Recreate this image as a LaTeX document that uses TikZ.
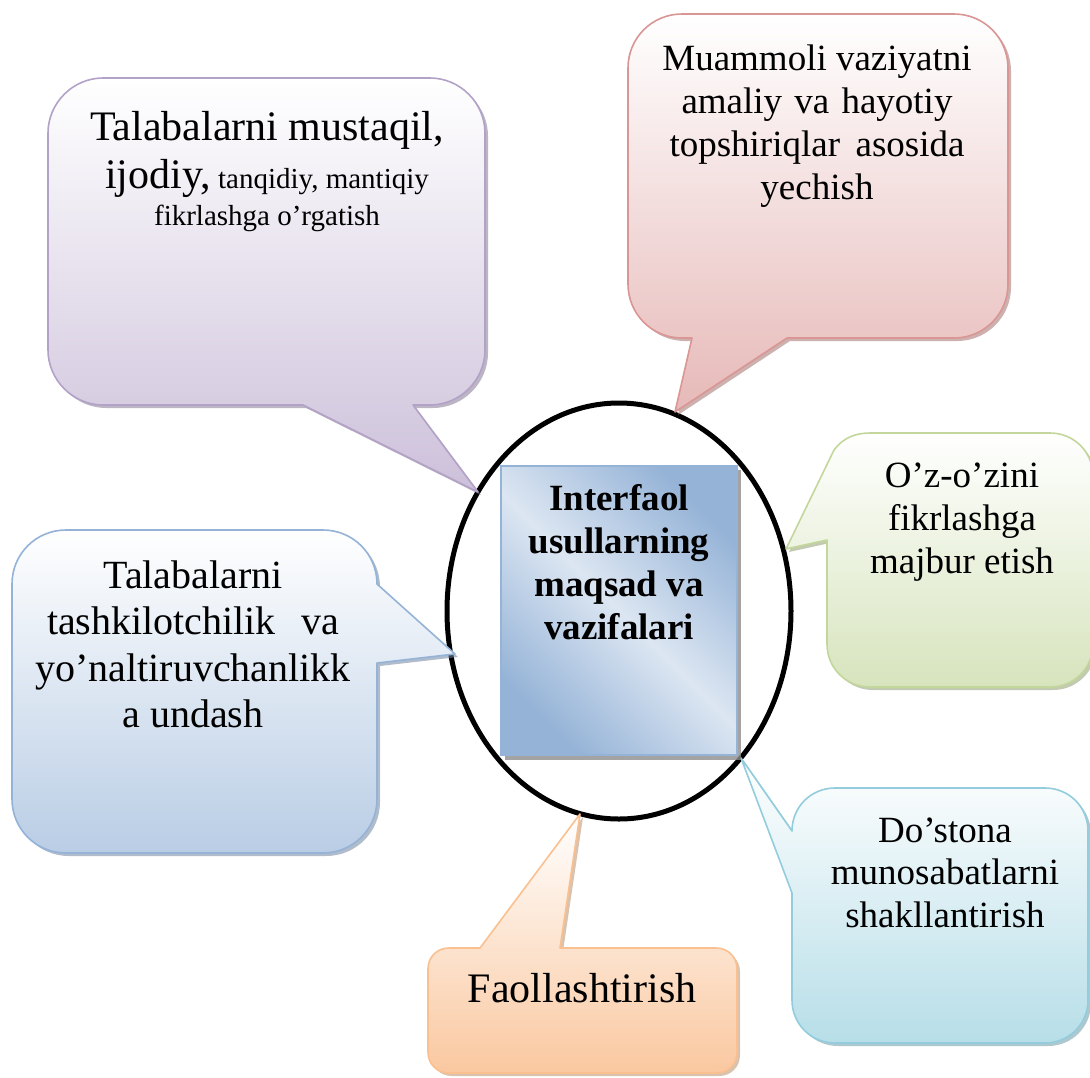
\documentclass[tikz,border=0pt]{standalone}
\usepackage{fontspec}
\setmainfont{Liberation Serif}
\definecolor{purpFill}{HTML}{CCC0DA}
\definecolor{purpLine}{HTML}{B3A2C7}
\definecolor{redFill}{HTML}{E6B9B8}
\definecolor{redLine}{HTML}{D99694}
\definecolor{grnFill}{HTML}{D7E4BD}
\definecolor{grnLine}{HTML}{C3D69B}
\definecolor{bluFill}{HTML}{B9CDE5}
\definecolor{bluLine}{HTML}{95B3D7}
\definecolor{cyaFill}{HTML}{B7DEE8}
\definecolor{cyaLine}{HTML}{93CDDD}
\definecolor{orgFill}{HTML}{FAC8A0}
\definecolor{orgLine}{HTML}{FAC090}
\definecolor{ctrDark}{HTML}{95B3D7}
\definecolor{ctrLight}{HTML}{DCE6F2}
\newcommand\ctext[2]{\parbox[t]{#1}{\centering #2}}
\newcommand\pPurple{(103,78) -- (430,78) .. controls (460,78) and (485,103) .. (485,133) -- (485,350) .. controls (485,380) and (460,405) .. (430,405) -- (413,405) -- (478,492) -- (303,405) -- (103,405) .. controls (73,405) and (48,380) .. (48,350) -- (48,133) .. controls (48,103) and (73,78) .. (103,78) -- cycle}
\newcommand\pRed{(682,14) -- (954,14) .. controls (984,14) and (1008,38) .. (1008,68) -- (1008,284) .. controls (1008,314) and (984,338) .. (954,338) -- (787,338) -- (675,412) -- (692,338) -- (682,338) .. controls (652,338) and (628,314) .. (628,284) -- (628,68) .. controls (628,38) and (652,14) .. (682,14) -- cycle}
\newcommand\pGreen{(870,433) -- (1050,433) .. controls (1074,433) and (1093,452) .. (1093,476) -- (1093,644) .. controls (1093,668) and (1074,687) .. (1050,687) -- (870,687) .. controls (846,687) and (827,668) .. (827,644) -- (827,540) -- (786,549) -- (834,450) .. controls (843,438) and (855,433) .. (870,433) -- cycle}
\newcommand\pBlue{(66,530) -- (323,530) .. controls (353,530) and (377,554) .. (377,584) -- (455,654) -- (377,663) -- (377,799) .. controls (377,829) and (353,853) .. (323,853) -- (66,853) .. controls (36,853) and (12,829) .. (12,799) -- (12,584) .. controls (12,554) and (36,530) .. (66,530) -- cycle}
\newcommand\pCyan{(835,788) -- (1045,788) .. controls (1069,788) and (1088,807) .. (1088,831) -- (1088,1000) .. controls (1088,1024) and (1069,1043) .. (1045,1043) -- (835,1043) .. controls (811,1043) and (792,1024) .. (792,1000) -- (792,893) -- (741,758) -- (792,831) .. controls (792,807) and (811,788) .. (835,788) -- cycle}
\newcommand\pOrange{(449,948) -- (480,948) -- (580,814) -- (560,948) -- (716,948) .. controls (728,948) and (737,957) .. (737,969) -- (737,1052) .. controls (737,1064) and (728,1073) .. (716,1073) -- (449,1073) .. controls (437,1073) and (428,1064) .. (428,1052) -- (428,969) .. controls (428,957) and (437,948) .. (449,948) -- cycle}
\begin{document}
\begin{tikzpicture}[x=1pt,y=-1pt,
  txt/.style={anchor=base, inner sep=0pt},
  shadowed/.style={shift={(3,3)}, fill=#1!75!black, opacity=0.55},
  bubble/.style={draw=#1Line, line width=1.6pt, line join=round, top color=white, bottom color=#1Fill}]
\fill[white] (0,0) rectangle (1090,1077);
\useasboundingbox (0,0) rectangle (1090,1077);
\clip (0,0) rectangle (1090,1077);
% central ellipse
\draw[line width=5pt] (619,611) ellipse [x radius=172, y radius=208];
% callouts
\fill[shadowed=purpLine] \pPurple;
\path[bubble=purp] \pPurple;
\fill[shadowed=redLine] \pRed;
\path[bubble=red] \pRed;
\fill[shadowed=grnLine] \pGreen;
\path[bubble=grn] \pGreen;
\fill[shadowed=bluLine] \pBlue;
\path[bubble=blu] \pBlue;
\fill[shadowed=cyaLine] \pCyan;
\path[bubble=cya] \pCyan;
\fill[shadowed=orgLine] \pOrange;
\path[bubble=org] \pOrange;
% central box
\fill[black!45, opacity=0.8] (505,470) rectangle (741,760);
\shade[top color=ctrDark, bottom color=ctrDark, middle color=ctrLight, shading angle=-45] (501,466) rectangle (737,755);
\draw[ctrDark, line width=1.2pt] (501,466) rectangle (737,755);
% texts
\node[txt] (tPurple) at (267,140)
  {\ctext{440pt}{\fontsize{42}{48}\selectfont Talabalarni mustaqil,\\ ijodiy,{\fontsize{29}{33}\selectfont{} tanqidiy, mantiqiy}\par
   \fontsize{29}{37}\selectfont fikrlashga o’rgatish\par}};
\node[txt] (tRed) at (817,70)
  {\ctext{360pt}{\fontsize{37}{43}\selectfont Muammoli vaziyatni\\ \makebox[271pt][s]{amaliy va hayotiy}\\ \makebox[295pt][s]{topshiriqlar asosida}\\ yechish\par}};
\node[txt] (tGreen) at (962,487)
  {\ctext{260pt}{\fontsize{37}{43}\selectfont O’z-o’zini\\ fikrlashga\\ majbur etish\par}};
\node[txt] (tBlue) at (193,588)
  {\ctext{360pt}{\fontsize{40}{46.5}\selectfont Talabalarni\\ \makebox[292pt][s]{tashkilotchilik va}\\ yo’naltiruvchanlikk\\ a undash\par}};
\node[txt] (tCyan) at (945,842)
  {\ctext{290pt}{\fontsize{37}{42.5}\selectfont Do’stona\\ munosabatlarni\\ shakllantirish\par}};
\node[txt] (tOrange) at (582,1002)
  {\ctext{300pt}{\fontsize{42}{48}\selectfont Faollashtirish\par}};
\node[txt] (tCenter) at (619,510)
  {\ctext{230pt}{\fontsize{37}{43.3}\selectfont\bfseries Interfaol\\ usullarning\\ maqsad va\\ vazifalari\par}};
\end{tikzpicture}
\end{document}
